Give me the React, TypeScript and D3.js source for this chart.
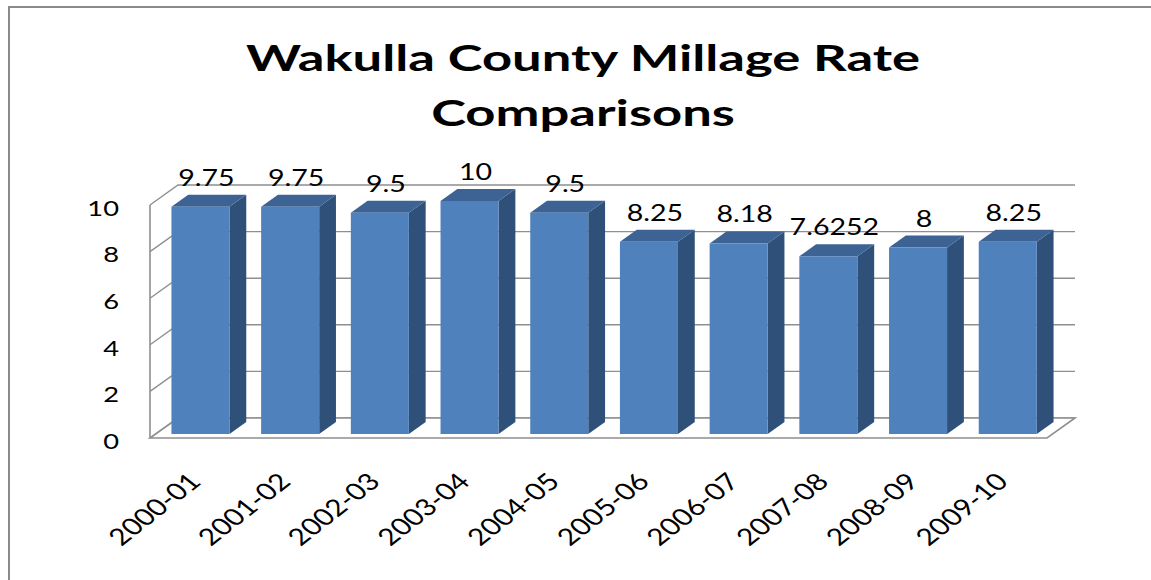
import React from "react";
import * as d3 from "d3";

const categories = ["2000-01", "2001-02", "2002-03", "2003-04", "2004-05", "2005-06", "2006-07", "2007-08", "2008-09", "2009-10"];
const values = [9.75, 9.75, 9.5, 10, 9.5, 8.25, 8.18, 7.6252, 8, 8.25];
const yTicks = [0, 2, 4, 6, 8, 10];
const titleLines = ["Wakulla County Millage Rate", "Comparisons"];

const W = 1151;
const H = 580;
const SX = 1.27; // horizontal stretch of the original picture
const SX_TITLE = 1.42;
const FONT = "Lato, 'Open Sans', sans-serif";

// floor front edge and depth
const X0 = 150;
const X1 = 1047;
const Y0 = 438;
const DEPTH_X = 28;
const DEPTH_Y = -20;
const BAR_D0 = 0.2;
const BAR_D1 = 0.8;

const x = d3.scaleBand<string>().domain(categories).range([X0, X1]).paddingInner(0.353).paddingOuter(0.1765);
const y = d3.scaleLinear().domain([0, 10]).range([Y0, Y0 - 233]);

const proj = (px: number, v: number, d: number): [number, number] => [px + DEPTH_X * d, y(v) + DEPTH_Y * d];
const pts = (arr: [number, number][]) => arr.map((p) => p.join(",")).join(" ");

const GRID = "#8f8f8f";

function SText({ x: tx, y: ty, rotate, sx = SX, children, ...rest }: any) {
  return (
    <g transform={`translate(${tx},${ty}) scale(${sx},1)${rotate ? ` rotate(${rotate})` : ""}`}>
      <text fontFamily={FONT} {...rest}>
        {children}
      </text>
    </g>
  );
}

export default function App() {
  const bw = x.bandwidth();
  return (
    <svg width={W} height={H} style={{ position: "absolute", left: 0, top: 0, display: "block", background: "#fff" }}>
      <rect x={9} y={7} width={1300} height={800} fill="#fff" stroke="#8a8a8a" strokeWidth={2} />
      {titleLines.map((t, i) => (
        <SText key={t} x={583} y={71 + i * 55} sx={SX_TITLE} textAnchor="middle" fontSize={37} fontWeight={700} fill="#000">
          {t}
        </SText>
      ))}
      {/* back wall gridlines and side wall */}
      {yTicks.map((t) => {
        const a = proj(X0, t, 0);
        const b = proj(X0, t, 1);
        const c = proj(X1, t, 1);
        return <polyline key={t} points={pts([a, b, c])} fill="none" stroke={GRID} strokeWidth={1.4} />;
      })}
      <line x1={X0} x2={X0} y1={y(0)} y2={y(10)} stroke={GRID} strokeWidth={1.6} />
      {/* floor */}
      <polygon points={pts([proj(X0, 0, 0), proj(X1, 0, 0), proj(X1, 0, 1), proj(X0, 0, 1)])} fill="#fff" stroke={GRID} strokeWidth={1.6} />
      {/* bars */}
      {categories.map((c, i) => {
        const v = values[i];
        const l = x(c) as number;
        const r = l + bw;
        const front = [proj(l, 0, BAR_D0), proj(r, 0, BAR_D0), proj(r, v, BAR_D0), proj(l, v, BAR_D0)] as [number, number][];
        const side = [proj(r, 0, BAR_D0), proj(r, 0, BAR_D1), proj(r, v, BAR_D1), proj(r, v, BAR_D0)] as [number, number][];
        const top = [proj(l, v, BAR_D0), proj(r, v, BAR_D0), proj(r, v, BAR_D1), proj(l, v, BAR_D1)] as [number, number][];
        return (
          <g key={c}>
            <polygon points={pts(side)} fill="#2f5079" />
            <polygon points={pts(top)} fill="#3c6394" />
            <polygon points={pts(front)} fill="#4f81bd" />
          </g>
        );
      })}
      {/* data labels */}
      {categories.map((c, i) => {
        const v = values[i];
        const l = x(c) as number;
        const [fx, fy] = proj(l + bw / 2, v, BAR_D0);
        return (
          <SText key={c} x={fx + 6} y={fy - 21} textAnchor="middle" fontSize={22.5} fill="#000">
            {String(v)}
          </SText>
        );
      })}
      {/* y tick labels */}
      {yTicks.map((t) => (
        <SText key={t} x={119} y={y(t) + 2.5} textAnchor="end" dominantBaseline="central" fontSize={21.5} fill="#000">
          {String(t)}
        </SText>
      ))}
      {/* category labels */}
      {categories.map((c) => {
        const [fx] = proj((x(c) as number) + bw / 2, 0, BAR_D0);
        return (
          <SText key={c} x={fx + 2} y={483} rotate={-45} textAnchor="end" fontSize={23.5} fill="#000">
            {c}
          </SText>
        );
      })}
    </svg>
  );
}
